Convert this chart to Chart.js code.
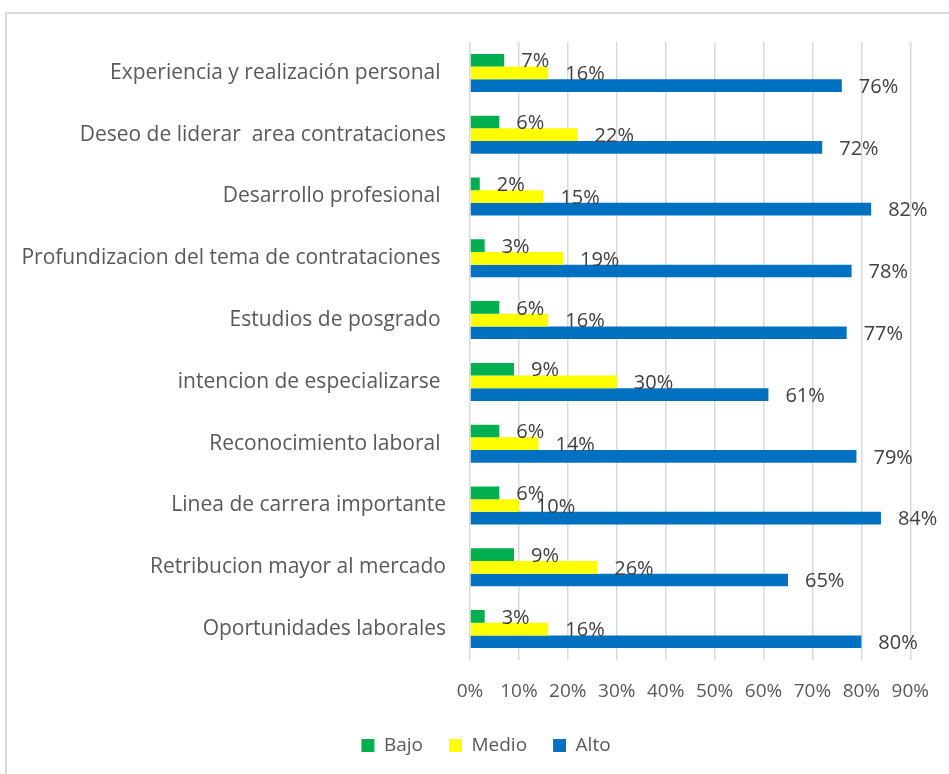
<!DOCTYPE html>
<html>
<head>
<meta charset="utf-8">
<script src="https://cdn.jsdelivr.net/npm/chart.js@4.4.0/dist/chart.umd.min.js"></script>
<style>
  html, body { margin: 0; padding: 0; background: #fff; overflow: hidden; }
  #wrap { position: relative; width: 949px; height: 774px; overflow: hidden; }
</style>
</head>
<body>
<div id="wrap"><canvas id="chart01" width="949" height="800"></canvas></div>
<script>
    // categorias (de arriba hacia abajo)
    const aCategorias = [
        "Experiencia y realización personal ",
        "Deseo de liderar  area contrataciones",
        "Desarrollo profesional ",
        "Profundizacion del tema de contrataciones ",
        "Estudios de posgrado ",
        "intencion de especializarse ",
        "Reconocimiento laboral ",
        "Linea de carrera importante",
        "Retribucion mayor al mercado",
        "Oportunidades laborales"
    ];
    const aBajo  = [7, 6, 2, 3, 6, 9, 6, 6, 9, 3];
    const aMedio = [16, 22, 15, 19, 16, 30, 14, 10, 26, 16];
    const aAlto  = [76, 72, 82, 78, 77, 61, 79, 84, 65, 80];
    const aTicks = [0, 10, 20, 30, 40, 50, 60, 70, 80, 90];

    const sFont = "'Open Sans', sans-serif";
    const sText = "#595959";

    // marco gris del grafico
    const borderPlugin = {
        id: "borde",
        beforeDraw: function (chart) {
            const c = chart.ctx;
            c.save();
            c.fillStyle = "#ffffff";
            c.fillRect(0, 0, chart.width, chart.height);
            c.strokeStyle = "#d9d9d9";
            c.lineWidth = 2;
            c.strokeRect(6, 13, 1200, 1200);
            c.restore();
        },
        // leyenda centrada como en el original
        afterLayout: function (chart) {
            chart.legend.left += 30;
            chart.legend.right += 30;
        }
    };

    // etiquetas de valor al final de cada barra
    const labelPlugin = {
        id: "etiquetas",
        afterDatasetsDraw: function (chart) {
            const c = chart.ctx;
            c.save();
            c.font = "20px " + sFont;
            c.fillStyle = "#404040";
            c.textAlign = "left";
            c.textBaseline = "middle";
            chart.data.datasets.forEach(function (ds, i) {
                chart.getDatasetMeta(i).data.forEach(function (bar, j) {
                    c.fillText(ds.data[j] + "%", bar.x + 17, bar.y + 1.5);
                });
            });
            c.restore();
        }
    };

    const ctx = document.getElementById("chart01");

    const data = {
        labels: aCategorias,
        datasets: [
            { label: "Bajo",  data: aBajo,  backgroundColor: "#00b050" },
            { label: "Medio", data: aMedio, backgroundColor: "#ffff00" },
            { label: "Alto",  data: aAlto,  backgroundColor: "#0070c0" }
        ]
    };

    const options = {
        indexAxis: "y",
        responsive: false,
        animation: false,
        datasets: {
            bar: { categoryPercentage: 0.615, barPercentage: 1.0 }
        },
        layout: {
            padding: { top: 42, right: 37, bottom: 35, left: 0 }
        },
        plugins: {
            tooltip: { enabled: false },
            legend: {
                position: "bottom",
                labels: {
                    boxWidth: 13,
                    boxHeight: 13,
                    padding: 26,
                    color: sText,
                    font: { family: sFont, size: 19 }
                }
            }
        },
        scales: {
            x: {
                min: 0,
                max: 90,
                afterBuildTicks: function (scale) {
                    scale.ticks = aTicks.map(function (v) { return { value: v }; });
                },
                afterFit: function (scale) { scale.height = 50; },
                grid: { color: "#d9d9d9", lineWidth: 1.5, drawTicks: false },
                border: { display: false },
                ticks: {
                    padding: 20,
                    color: sText,
                    font: { family: sFont, size: 19 },
                    callback: function (v) { return v + "%"; }
                }
            },
            y: {
                afterFit: function (scale) { scale.width = 470; },
                grid: { display: false, drawTicks: false },
                border: { display: false },
                ticks: {
                    padding: 24,
                    color: sText,
                    font: { family: sFont, size: 21 }
                }
            }
        }
    };

    new Chart(ctx, {
        type: "bar",
        data: data,
        options: options,
        plugins: [borderPlugin, labelPlugin]
    });
</script>
</body>
</html>
